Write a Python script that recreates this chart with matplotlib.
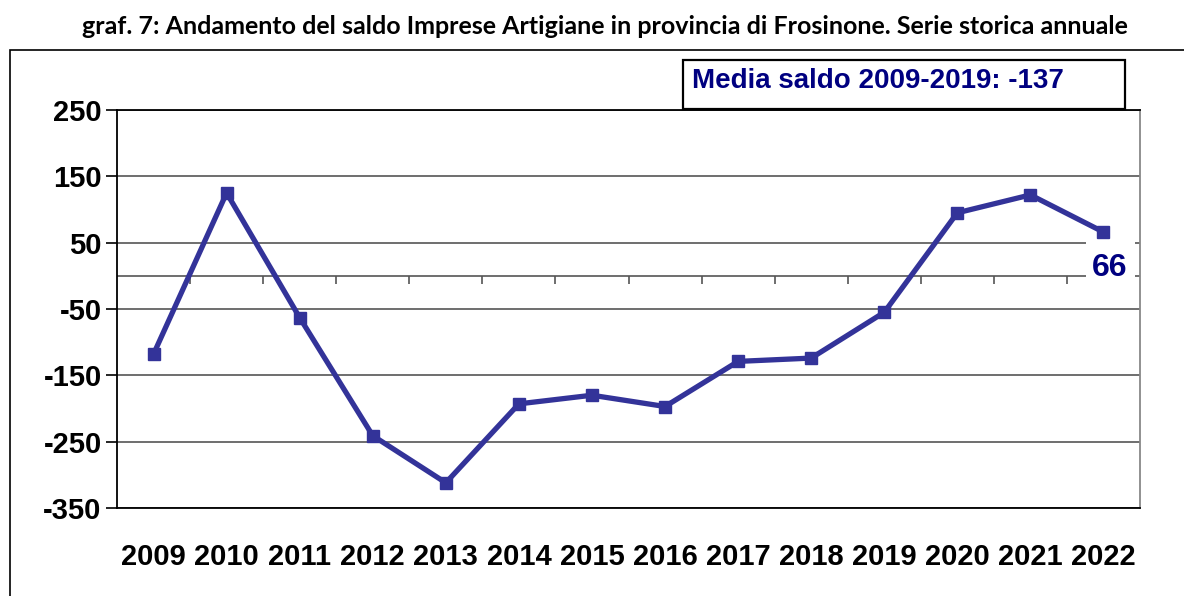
import matplotlib
matplotlib.use("Agg")
import matplotlib.pyplot as plt
from matplotlib.patches import Rectangle

years = ["2009", "2010", "2011", "2012", "2013", "2014", "2015",
         "2016", "2017", "2018", "2019", "2020", "2021", "2022"]
saldo = [-118, 125, -63, -241, -312, -193, -180, -197, -129, -124, -55, 95, 122, 66]
y_ticks = [250, 150, 50, -50, -150, -250, -350]
title = "graf. 7: Andamento del saldo Imprese Artigiane in provincia di Frosinone. Serie storica annuale"
media_label = "Media saldo 2009-2019: -137"

W, H = 1184, 596
fig = plt.figure(figsize=(W / 100, H / 100), dpi=100)
fig.patch.set_facecolor("white")

def fx(px):
    return px / W

def fy(py):
    return 1 - py / H

ax = fig.add_axes([fx(117), fy(508), fx(1140) - fx(117), fy(110) - fy(508)])
ax.set_xlim(-0.5, len(years) - 0.5)
ax.set_ylim(-350, 250)

# gridlines
for v in y_ticks:
    ax.axhline(v, color="#555555", lw=1.2, zorder=1)
ax.axhline(0, color="#555555", lw=1.2, zorder=1)
# category tick marks on zero line
bounds = [i + 0.5 for i in range(len(years) - 1)]
ax.vlines(bounds, -13, 0, color="#555555", lw=1.2, zorder=1)

line_color = "#333399"
x = list(range(len(years)))
ax.plot(x, saldo, color=line_color, lw=3.8, marker="s", markersize=9,
        markerfacecolor=line_color, markeredgecolor=line_color, zorder=3)

ax.set_yticks(y_ticks)
ax.set_yticklabels([str(v) for v in y_ticks], fontsize=21, fontweight="bold",
                   family="Liberation Sans")
ax.tick_params(axis="y", length=8, width=1.2, color="black", pad=3)
ax.set_xticks(x)
ax.set_xticklabels(years, fontsize=21, fontweight="bold", family="Liberation Sans")
ax.tick_params(axis="x", length=0, pad=25)

for s in ["left", "bottom", "top"]:
    ax.spines[s].set_color("black")
    ax.spines[s].set_linewidth(1.3)
ax.spines["right"].set_color("#888888")
ax.spines["right"].set_linewidth(1.3)

# white area behind the value label (interrupts gridlines)
ax.add_patch(Rectangle((12.76, -6), 0.67, 61, facecolor="white", edgecolor="none",
                       zorder=2))
ax.text(13.08, 12, str(saldo[-1]), color="#000080",
        fontsize=23, fontweight="bold", family="Liberation Sans",
        ha="center", va="center", zorder=4)

# outer frame
frame = Rectangle((fx(10), -0.2), 1.5, fy(50) + 0.2, transform=fig.transFigure,
                  fill=False, edgecolor="black", lw=1.2, clip_on=False)
fig.patches.append(frame)

# mean box
box = Rectangle((fx(683), fy(109)), fx(1125) - fx(683), fy(60) - fy(109),
                transform=fig.transFigure, facecolor="white", edgecolor="black",
                lw=1.6, zorder=5)
fig.patches.append(box)
fig.text(fx(692), fy(81), media_label, color="#000080", fontsize=20,
         fontweight="bold", family="Liberation Sans", ha="left", va="center",
         zorder=10)

fig.text(fx(605), fy(27), title, fontsize=18, fontweight="bold",
         family="Lato", ha="center", va="center")

fig.savefig("out.png", dpi=100)
